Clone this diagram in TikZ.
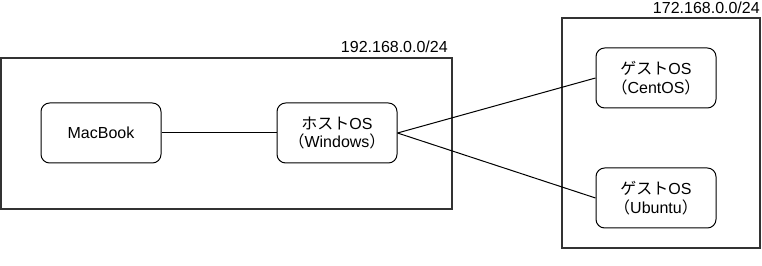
\documentclass[tikz,border=0pt]{standalone}
\usepackage{fontspec}
\setmainfont{Liberation Sans}
\newfontfamily\jp{Noto Sans CJK JP}
\begin{document}
\begin{tikzpicture}[x=0.75pt,y=-0.75pt,
  net/.style={draw=black!80,line width=1.5pt},
  host/.style={draw=black,line width=0.75pt,rounded corners=6.5pt,
    minimum width=90pt,minimum height=45pt,align=center,font=\fontsize{12}{14}\selectfont,inner sep=0pt},
  addr/.style={font=\fontsize{12}{14}\selectfont,anchor=base east,inner sep=0pt},
  link/.style={draw=black,line width=0.75pt}]
\useasboundingbox (0,0) rectangle (762,266);
% networks
\draw[net] (1,58) rectangle (452,209);
\node[addr] (lan) at (448,53) {192.168.0.0/24};
\draw[net] (562,18) rectangle (760,248);
\node[addr] (vnet) at (760,14) {172.168.0.0/24};
% machines
\node[host] (mac) at (101,133) {MacBook};
\node[host] (hostos) at (337,133) {{\jp ホスト}OS\\{\jp （}Windows{\jp ）}};
\node[host] (centos) at (656,78) {{\jp ゲスト}OS\\{\jp （}CentOS{\jp ）}};
\node[host] (ubuntu) at (656,198) {{\jp ゲスト}OS\\{\jp （}Ubuntu{\jp ）}};
% links
\draw[link] (mac) -- (hostos);
\draw[link] (hostos.east) -- (centos.west);
\draw[link] (hostos.east) -- (ubuntu.west);
\end{tikzpicture}
\end{document}
